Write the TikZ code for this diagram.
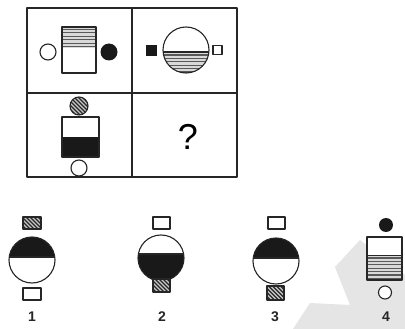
\documentclass[tikz,border=0pt]{standalone}
\usepackage{fontspec}
\setmainfont{Liberation Sans}
\newcommand\hhatch[3]{% x1,y1,x2 horizontal lines (clip limits them)
  \foreach \ii in {0,...,9} {\draw[hl] (#1,{#2+3.4*\ii}) -- (#3,{#2+3.4*\ii});}}
\newcommand\dhatch[3]{% cx,cy,half size diagonal lines
  \foreach \kk in {-36,-32,...,36} {\draw[dl] ({#1+\kk-#3},{#2-#3}) -- ({#1+\kk+#3},{#2+#3});}}
\begin{document}
\begin{tikzpicture}[x=1pt,y=-1pt, line join=round,
  outl/.style={draw=black!85, line width=1.1pt},
  hl/.style={draw=black!65, line width=1.1pt},
  dl/.style={draw=black!85, line width=1.1pt},
  hfill/.style={fill=black!22},
  lbl/.style={font=\bfseries\fontsize{14}{14}\selectfont, text=black!85, inner sep=0pt}]
\useasboundingbox[fill=white] (0,0) rectangle (405,329);
% watermark
\fill[black!10] (293,329) -- (310,303) -- (350,305) -- (335,267) -- (360,240) -- (405,275) -- (405,329) -- cycle;
% grid
\draw[outl] (27,8) rectangle (237,177);
\draw[outl] (132,8) -- (132,177);
\draw[outl] (27,93) -- (237,93);
% ---- cell 1
\draw[outl, fill=white] (48,52) circle (8pt);
\fill[white] (62,27) rectangle (96,73);
\begin{scope}
  \clip (62,27) rectangle (96,48);
  \fill[black!15] (62,27) rectangle (96,48);
  \hhatch{62}{29.5}{96}
\end{scope}
\draw[outl] (62,27) rectangle (96,73);
\fill[black!90] (109,52) circle (8.5pt);
% ---- cell 2
\fill[black!90] (146,45) rectangle (157,56);
\fill[white] (186,50) circle (23pt);
\begin{scope}
  \clip (186,50) circle (23pt);
  \fill[black!15] (160,52) rectangle (212,75);
  \hhatch{160}{55}{212}
  \draw[outl] (160,52) -- (212,52);
\end{scope}
\draw[outl] (186,50) circle (23pt);
\draw[outl, fill=white] (213,45.5) rectangle (222,54.5);
% ---- cell 3
\fill[hfill] (79,106) circle (9pt);
\begin{scope}
  \clip (79,106) circle (9pt);
  \dhatch{79}{106}{12}
\end{scope}
\draw[outl] (79,106) circle (9pt);
\fill[white] (62,117) rectangle (99,157);
\fill[black!90] (62,137) rectangle (99,157);
\draw[outl] (62,117) rectangle (99,157);
\draw[outl, fill=white] (79,168) circle (8pt);
% ---- cell 4
\node (q) at (188,137) {\fontsize{36}{36}\selectfont ?};
% ---- option 1
\fill[hfill] (23,217) rectangle (41,229);
\begin{scope}
  \clip (23,217) rectangle (41,229);
  \dhatch{32}{223}{10}
\end{scope}
\draw[outl] (23,217) rectangle (41,229);
\fill[white] (32,260) circle (23pt);
\begin{scope}
  \clip (32,260) circle (23pt);
  \fill[black!90] (8,236) rectangle (56,257);
  \draw[outl] (8,257) -- (56,257);
\end{scope}
\draw[outl] (32,260) circle (23pt);
\draw[outl, fill=white] (23,288) rectangle (41,300);
\node[lbl] (l1) at (32,317) {1};
% ---- option 2
\draw[outl, fill=white] (153,217) rectangle (170,229);
\fill[white] (161,258) circle (23pt);
\begin{scope}
  \clip (161,258) circle (23pt);
  \fill[black!90] (137,254) rectangle (185,282);
  \draw[outl] (137,254) -- (185,254);
\end{scope}
\draw[outl] (161,258) circle (23pt);
\fill[hfill] (153,279) rectangle (170,292);
\begin{scope}
  \clip (153,279) rectangle (170,292);
  \dhatch{161.5}{285.5}{10}
\end{scope}
\draw[outl] (153,279) rectangle (170,292);
\node[lbl] (l2) at (162,317) {2};
% ---- option 3
\draw[outl, fill=white] (268,217) rectangle (285,229);
\fill[white] (276,261) circle (23pt);
\begin{scope}
  \clip (276,261) circle (23pt);
  \fill[black!90] (252,237) rectangle (300,258);
  \draw[outl] (252,258) -- (300,258);
\end{scope}
\draw[outl] (276,261) circle (23pt);
\fill[hfill] (267,286) rectangle (284,300);
\begin{scope}
  \clip (267,286) rectangle (284,300);
  \dhatch{275.5}{293}{10}
\end{scope}
\draw[outl] (267,286) rectangle (284,300);
\node[lbl] (l3) at (275,317) {3};
% ---- option 4
\fill[black!90] (386,225) circle (7pt);
\fill[white] (367,237) rectangle (402,280);
\begin{scope}
  \clip (367,255) rectangle (402,280);
  \fill[black!15] (367,255) rectangle (402,280);
  \hhatch{367}{258}{402}
  \draw[outl] (367,255) -- (402,255);
\end{scope}
\draw[outl] (367,237) rectangle (402,280);
\draw[outl, fill=white] (385,292.5) circle (6.5pt);
\node[lbl] (l4) at (386,317) {4};
\end{tikzpicture}
\end{document}
